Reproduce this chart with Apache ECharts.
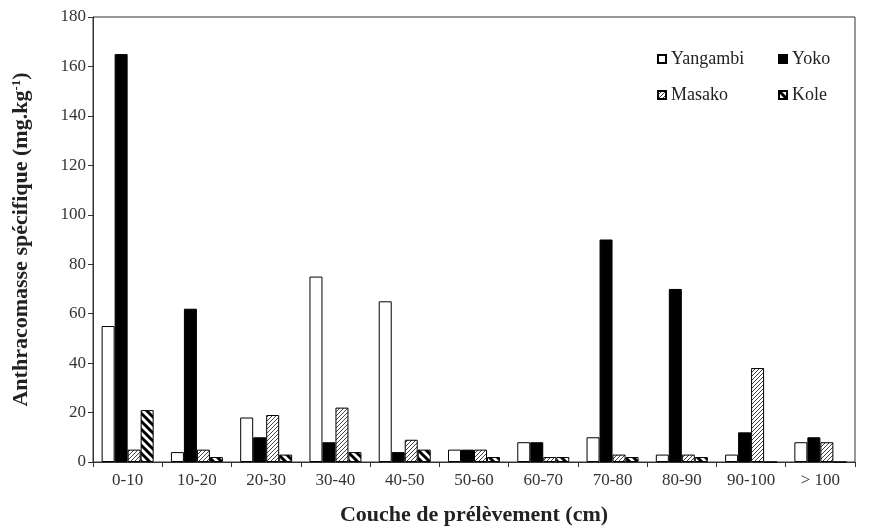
<!DOCTYPE html>
<html><head><meta charset="utf-8">
<script src="https://cdn.jsdelivr.net/npm/echarts@6/dist/echarts.min.js"></script>
<style>html,body{margin:0;padding:0;background:#fff}#c{width:881px;height:531px}</style>
</head><body><div id="c"></div>
<script>
const categories = ['0-10','10-20','20-30','30-40','40-50','50-60','60-70','70-80','80-90','90-100','> 100'];
const yangambi = [55, 4, 18, 75, 65, 5, 8, 10, 3, 3, 8];
const yoko     = [165, 62, 10, 8, 4, 5, 8, 90, 70, 12, 10];
const masako   = [5, 5, 19, 22, 9, 5, 2, 3, 3, 38, 8];
const kole     = [21, 2, 3, 4, 5, 2, 2, 2, 2, 0, 0];
const yTicks = [0, 20, 40, 60, 80, 100, 120, 140, 160, 180];

function pattern(size, dir, lw, color, bg) {
  const c = document.createElement('canvas');
  c.width = size; c.height = size;
  const g = c.getContext('2d');
  g.fillStyle = bg; g.fillRect(0,0,size,size);
  g.strokeStyle = color; g.lineWidth = lw;
  g.beginPath();
  for (let k = -1; k <= 1; k++) {
    if (dir === '/') { g.moveTo(k*size - 1, size + 1); g.lineTo(k*size + size + 1, -1); }
    else { g.moveTo(k*size - 1, -1); g.lineTo(k*size + size + 1, size + 1); }
  }
  g.stroke();
  return c;
}
const masakoPat = {image: pattern(4, '/', 1, '#444', '#fff'), repeat: 'repeat'};
const kolePat = {image: pattern(8, '\\', 3, '#000', '#fff'), repeat: 'repeat'};

const FONT = 'Liberation Serif';
const chart = echarts.init(document.getElementById('c'));
const legendBase = {
  itemWidth: 8, itemHeight: 8, icon: 'rect', itemGap: 4,
  textStyle: {fontFamily: FONT, fontSize: 18, color: '#222'}
};
chart.setOption({
  animation: false,
  textStyle: {fontFamily: FONT},
  grid: {left: 93, right: 26, top: 17, bottom: 64, show: true, borderColor: '#333', borderWidth: 1},
  legend: [
    Object.assign({}, legendBase, {data: ['Yangambi'], left: 652, top: 45}),
    Object.assign({}, legendBase, {data: ['Yoko'], left: 773, top: 45}),
    Object.assign({}, legendBase, {data: ['Masako'], left: 652, top: 81}),
    Object.assign({}, legendBase, {data: ['Kole'], left: 773, top: 81})
  ],
  xAxis: {
    type: 'category', data: categories,
    name: 'Couche de prélèvement (cm)', nameLocation: 'middle', nameGap: 42,
    nameTextStyle: {fontFamily: FONT, fontSize: 22, fontWeight: 'bold', color: '#222'},
    axisLine: {lineStyle: {color: '#333'}},
    axisTick: {show: true, length: 5, lineStyle: {color: '#333'}},
    axisLabel: {fontFamily: FONT, fontSize: 17, color: '#333', margin: 10}
  },
  yAxis: {
    type: 'value', min: 0, max: 180, interval: 20,
    name: '{b|Anthracomasse spécifique (mg.kg}{s|-1}{b|)}', nameLocation: 'middle', nameGap: 60,
    nameTextStyle: {rich: {
      b: {fontFamily: FONT, fontSize: 22, fontWeight: 'bold', color: '#222'},
      s: {fontFamily: FONT, fontSize: 13, fontWeight: 'bold', color: '#222', verticalAlign: 'top', padding: [0,0,10,0]}
    }},
    axisLine: {show: true, lineStyle: {color: '#333'}},
    axisTick: {show: true, length: 5, lineStyle: {color: '#333'}},
    splitLine: {show: false},
    axisLabel: {fontFamily: FONT, fontSize: 17, color: '#333', margin: 7}
  },
  series: [
    {name: 'Yangambi', type: 'bar', data: yangambi, barWidth: 13, barGap: '0%',
     itemStyle: {color: '#fff', borderColor: '#000', borderWidth: 1}},
    {name: 'Yoko', type: 'bar', data: yoko, barWidth: 13,
     itemStyle: {color: '#000', borderColor: '#000', borderWidth: 1}},
    {name: 'Masako', type: 'bar', data: masako, barWidth: 13,
     itemStyle: {color: masakoPat, borderColor: '#000', borderWidth: 1}},
    {name: 'Kole', type: 'bar', data: kole, barWidth: 13,
     itemStyle: {color: kolePat, borderColor: '#000', borderWidth: 1}}
  ]
});
</script></body></html>
